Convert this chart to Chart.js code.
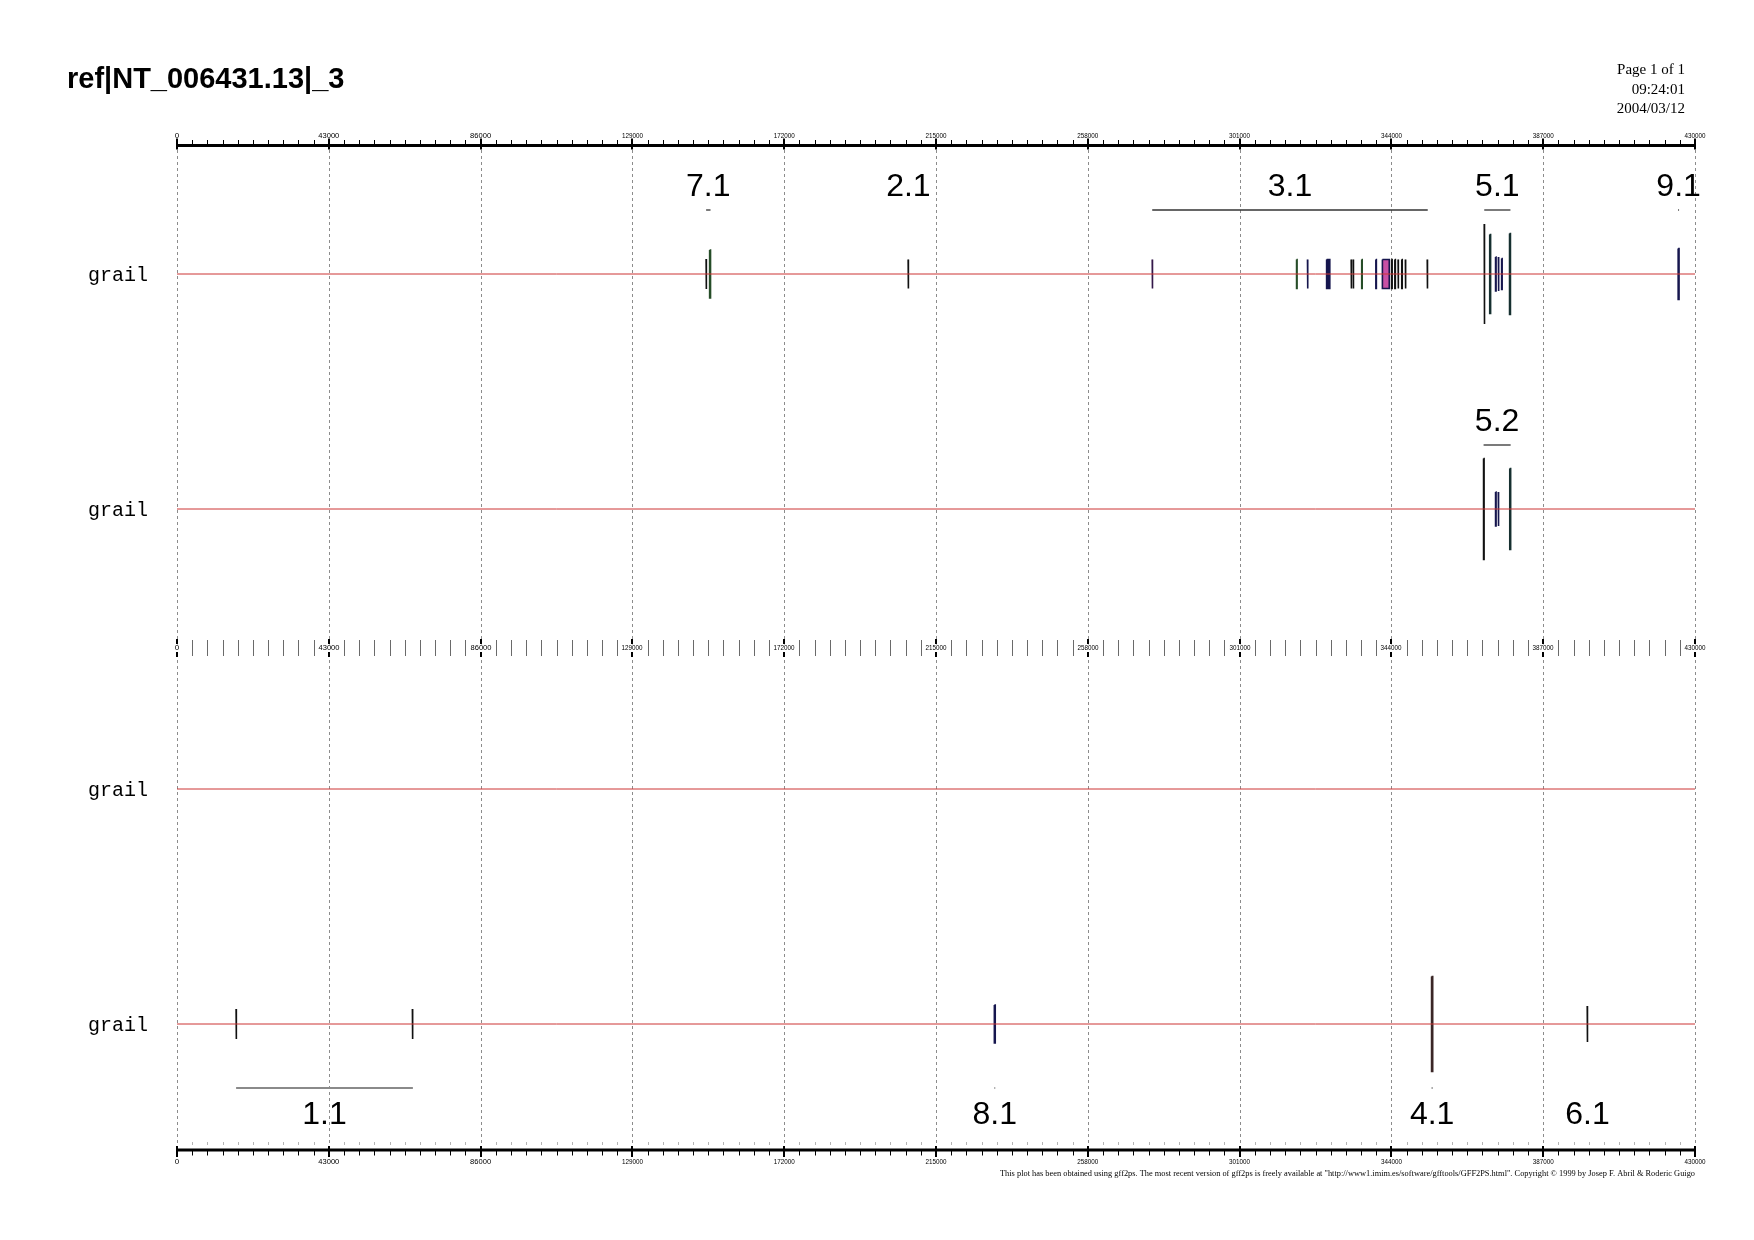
<!DOCTYPE html>
<html>
<head>
<meta charset="utf-8">
<title>ref|NT_006431.13|_3</title>
<script src="https://cdn.jsdelivr.net/npm/chart.js@4.4.0/dist/chart.umd.min.js"></script>
<style>
  html, body { margin: 0; padding: 0; background: #fff; }
  canvas { display: block; }
</style>
</head>
<body>
<canvas id="plot" width="1754" height="1240"></canvas>
<script>
// Secuencia y ejes
const seqName = 'ref|NT_006431.13|_3';
const seqLength = 430000;
const majorTicks = [0, 43000, 86000, 129000, 172000, 215000, 258000, 301000, 344000, 387000, 430000];
const tickLabels = ['0', '43000', '86000', '129000', '172000', '215000', '258000', '301000', '344000', '387000', '430000'];
const minorPerMajor = 10;
const pageInfo = ['Page 1 of 1', '09:24:01', '2004/03/12'];

// Pistas
const trackNames = ['grail', 'grail', 'grail', 'grail'];
const trackStrand = ['+', '+', '+', '-'];

// Exones (una entrada por exón)
const exonTrack = [0, 0, 0, 0, 0, 0, 0, 0, 0, 0, 0, 0, 0, 0, 0, 0, 0, 0, 0, 0, 0, 0, 0, 0, 0,
                   1, 1, 1, 1,
                   3, 3, 3, 3, 3];
const exonGene = ['7.1', '7.1', '2.1',
                  '3.1', '3.1', '3.1', '3.1', '3.1', '3.1', '3.1', '3.1', '3.1', '3.1', '3.1', '3.1', '3.1', '3.1', '3.1',
                  '5.1', '5.1', '5.1', '5.1', '5.1', '5.1', '9.1',
                  '5.2', '5.2', '5.2', '5.2',
                  '1.1', '1.1', '8.1', '4.1', '6.1'];
const exonStart = [149880, 150880, 207110,
                   276250, 317140, 320230, 325650, 332610, 333180, 335590, 339600, 341450, 344070, 344980, 345900, 346930, 347960, 354150,
                   370300, 371850, 373510, 374310, 375230, 377470, 425230,
                   370110, 373510, 374280, 377530,
                   16740, 66680, 231530, 355380, 399470];
const exonEnd = [150020, 151130, 207250,
                 276390, 317280, 320370, 326550, 332750, 333320, 335730, 339740, 343400, 344210, 345120, 346040, 347070, 348100, 354290,
                 370440, 372100, 373650, 374450, 375370, 377720, 425480,
                 370250, 373650, 374420, 377780,
                 16880, 66820, 231780, 355700, 399610];
const exonScore = [15, 24, 14.5,
                   14.5, 14.5, 14.5, 14.5, 14.5, 14.5, 14.5, 14.5, 14.5, 14.5, 14.5, 14.5, 14.5, 14.5, 14.5,
                   50, 39.5, 17, 17, 15.5, 40.5, 25.5,
                   50.5, 17, 17, 40.5,
                   15, 15, 19, 47.5, 18];
const exonGroup = ['K', 'G', 'K',
                   'M', 'G', 'N', 'N', 'K', 'K', 'G', 'N', 'P', 'K', 'K', 'K', 'K', 'K', 'K',
                   'K', 'S', 'N', 'N', 'N', 'S', 'N',
                   'K', 'N', 'N', 'S',
                   'K', 'K', 'N', 'B', 'K'];

// Disposición (unidades del eje y: 0 = eje superior)
const layout = { trackY: [130, 365, 645, 880], midAxis: 504, bottom: 1007, labelUp: 78, labelDown: 100, spanOff: 64 };
const groupFill = { K: '#111111', G: '#264d28', N: '#16164e', S: '#163030', M: '#34184a', P: '#c850a4', B: '#3a2626' };
const groupLine = { K: '#111111', G: '#264d28', N: '#16164e', S: '#163030', M: '#34184a', P: '#16164e', B: '#3a2626' };

// Genes: extensión calculada a partir de sus exones
const genes = [];
exonGene.forEach((g, i) => {
  let gene = genes.find(o => o.name === g && o.track === exonTrack[i]);
  if (!gene) { gene = { name: g, track: exonTrack[i], start: exonStart[i], end: exonEnd[i] }; genes.push(gene); }
  gene.start = Math.min(gene.start, exonStart[i]);
  gene.end = Math.max(gene.end, exonEnd[i]);
});
const spanY = g => layout.trackY[g.track] + (trackStrand[g.track] === '-' ? layout.spanOff : -layout.spanOff);

const datasets = [];
trackNames.forEach((n, i) => {
  datasets.push({
    data: [{ x: 0, y: layout.trackY[i] }, { x: seqLength, y: layout.trackY[i] }],
    borderColor: '#cc3434', borderWidth: 1
  });
});
genes.forEach(g => {
  const rev = trackStrand[g.track] === '-';
  datasets.push({
    data: [{ x: g.start, y: spanY(g) }, { x: g.end, y: spanY(g) }],
    borderColor: rev ? '#8a8a8a' : '#333333', borderWidth: rev ? 2 : 1.3
  });
});
exonStart.forEach((s, i) => {
  const ty = layout.trackY[exonTrack[i]];
  const h = exonScore[i];
  const e = exonEnd[i];
  datasets.push({
    data: [{ x: s, y: ty - h }, { x: e, y: ty - h }, { x: e, y: ty + h }, { x: s, y: ty + h }, { x: s, y: ty - h }],
    fill: 'shape',
    backgroundColor: groupFill[exonGroup[i]],
    borderColor: groupLine[exonGroup[i]],
    borderWidth: 1.6
  });
});

const decor = {
  id: 'decor',
  beforeDatasetsDraw(chart) {
    const { ctx, chartArea: a, scales: { x } } = chart;
    ctx.save();
    ctx.strokeStyle = '#8c8c8c';
    ctx.lineWidth = 1;
    ctx.setLineDash([3, 3]);
    majorTicks.forEach(v => {
      const px = Math.round(x.getPixelForValue(v)) + 0.5;
      ctx.beginPath(); ctx.moveTo(px, a.top); ctx.lineTo(px, a.bottom); ctx.stroke();
    });
    ctx.restore();
  },
  afterDatasetsDraw(chart) {
    const { ctx, chartArea: a, scales: { x, y } } = chart;
    const step = majorTicks[1] / minorPerMajor;
    const minors = [];
    for (let v = 0; v <= seqLength; v += step) {
      if (!majorTicks.includes(Math.round(v))) minors.push(Math.round(v));
    }
    ctx.save();
    ctx.fillStyle = '#000';
    ctx.strokeStyle = '#000';

    // eje superior
    const yt = y.getPixelForValue(0) + 1.5;
    ctx.lineWidth = 3;
    ctx.beginPath(); ctx.moveTo(a.left, yt); ctx.lineTo(a.right, yt); ctx.stroke();
    ctx.lineWidth = 1;
    minors.forEach(v => {
      const px = Math.round(x.getPixelForValue(v)) + 0.5;
      ctx.beginPath(); ctx.moveTo(px, yt - 5.5); ctx.lineTo(px, yt); ctx.stroke();
    });
    ctx.lineWidth = 2;
    majorTicks.forEach(v => {
      const px = Math.round(x.getPixelForValue(v));
      ctx.beginPath(); ctx.moveTo(px, yt - 7); ctx.lineTo(px, yt + 4); ctx.stroke();
    });
    ctx.font = '8px "Liberation Sans"';
    ctx.textAlign = 'center';
    ctx.textBaseline = 'alphabetic';
    majorTicks.forEach((v, i) => ctx.fillText(tickLabels[i], x.getPixelForValue(v), yt - 8, 21));

    // eje central
    const ym = y.getPixelForValue(layout.midAxis);
    ctx.strokeStyle = '#6a6a6a';
    ctx.lineWidth = 1;
    minors.forEach(v => {
      const px = Math.round(x.getPixelForValue(v)) + 0.5;
      ctx.beginPath(); ctx.moveTo(px, ym - 8); ctx.lineTo(px, ym + 8); ctx.stroke();
    });
    ctx.strokeStyle = '#000';
    ctx.lineWidth = 2;
    majorTicks.forEach((v, i) => {
      const px = Math.round(x.getPixelForValue(v));
      ctx.fillStyle = '#fff';
      ctx.fillRect(px - 11, ym - 3.5, 22, 7);
      ctx.beginPath(); ctx.moveTo(px, ym - 9); ctx.lineTo(px, ym - 4); ctx.moveTo(px, ym + 4); ctx.lineTo(px, ym + 9); ctx.stroke();
      ctx.fillStyle = '#000';
      ctx.textBaseline = 'middle';
      ctx.fillText(tickLabels[i], px, ym, 21);
    });

    // eje inferior
    const yb = y.getPixelForValue(layout.bottom) - 1;
    ctx.lineWidth = 3;
    ctx.beginPath(); ctx.moveTo(a.left, yb); ctx.lineTo(a.right, yb); ctx.stroke();
    ctx.lineWidth = 1;
    minors.forEach(v => {
      const px = Math.round(x.getPixelForValue(v)) + 0.5;
      ctx.beginPath(); ctx.moveTo(px, yb); ctx.lineTo(px, yb + 5.5); ctx.stroke();
    });
    ctx.strokeStyle = '#b5b5b5';
    minors.forEach(v => {
      const px = Math.round(x.getPixelForValue(v)) + 0.5;
      ctx.beginPath(); ctx.moveTo(px, yb - 8); ctx.lineTo(px, yb - 5); ctx.stroke();
    });
    ctx.strokeStyle = '#000';
    ctx.lineWidth = 2;
    majorTicks.forEach(v => {
      const px = Math.round(x.getPixelForValue(v));
      ctx.beginPath(); ctx.moveTo(px, yb - 4); ctx.lineTo(px, yb + 7); ctx.stroke();
    });
    ctx.textBaseline = 'alphabetic';
    majorTicks.forEach((v, i) => ctx.fillText(tickLabels[i], x.getPixelForValue(v), yb + 14, 21));

    // nombres de pista
    ctx.font = '20px "Liberation Mono"';
    ctx.textAlign = 'right';
    ctx.textBaseline = 'middle';
    trackNames.forEach((n, i) => ctx.fillText(n, a.left - 29, y.getPixelForValue(layout.trackY[i]) + 2));

    // etiquetas de genes
    ctx.font = '32px "Liberation Sans"';
    ctx.textAlign = 'center';
    ctx.textBaseline = 'alphabetic';
    genes.forEach(g => {
      const rev = trackStrand[g.track] === '-';
      const ly = layout.trackY[g.track] + (rev ? layout.labelDown : -layout.labelUp);
      ctx.fillText(g.name, x.getPixelForValue((g.start + g.end) / 2), y.getPixelForValue(ly));
    });

    // título y cabecera
    ctx.textAlign = 'left';
    ctx.font = 'bold 29px "Liberation Sans"';
    ctx.fillText(seqName, 67, 88);
    ctx.textAlign = 'right';
    ctx.font = '15px "Liberation Serif"';
    pageInfo.forEach((t, i) => ctx.fillText(t, a.right - 10, 74 + i * 19.5));

    // pie
    ctx.font = '9px "Liberation Serif"';
    ctx.fillText('This plot has been obtained using gff2ps. The most recent version of gff2ps is freely available at "http://www1.imim.es/software/gfftools/GFF2PS.html". Copyright \u00A9 1999 by Josep F. Abril & Roderic Guigo',
      a.right, yb + 26, 695);
    ctx.restore();
  }
};

new Chart(document.getElementById('plot'), {
  type: 'line',
  data: { datasets },
  options: {
    responsive: false,
    animation: false,
    devicePixelRatio: 1,
    layout: { padding: { left: 177, right: 59, top: 144, bottom: 89 } },
    plugins: { legend: { display: false }, tooltip: { enabled: false } },
    elements: { point: { radius: 0 }, line: { tension: 0 } },
    scales: {
      x: { type: 'linear', min: 0, max: seqLength, display: false },
      y: { type: 'linear', min: 0, max: layout.bottom, reverse: true, display: false }
    }
  },
  plugins: [decor]
});
</script>
</body>
</html>
